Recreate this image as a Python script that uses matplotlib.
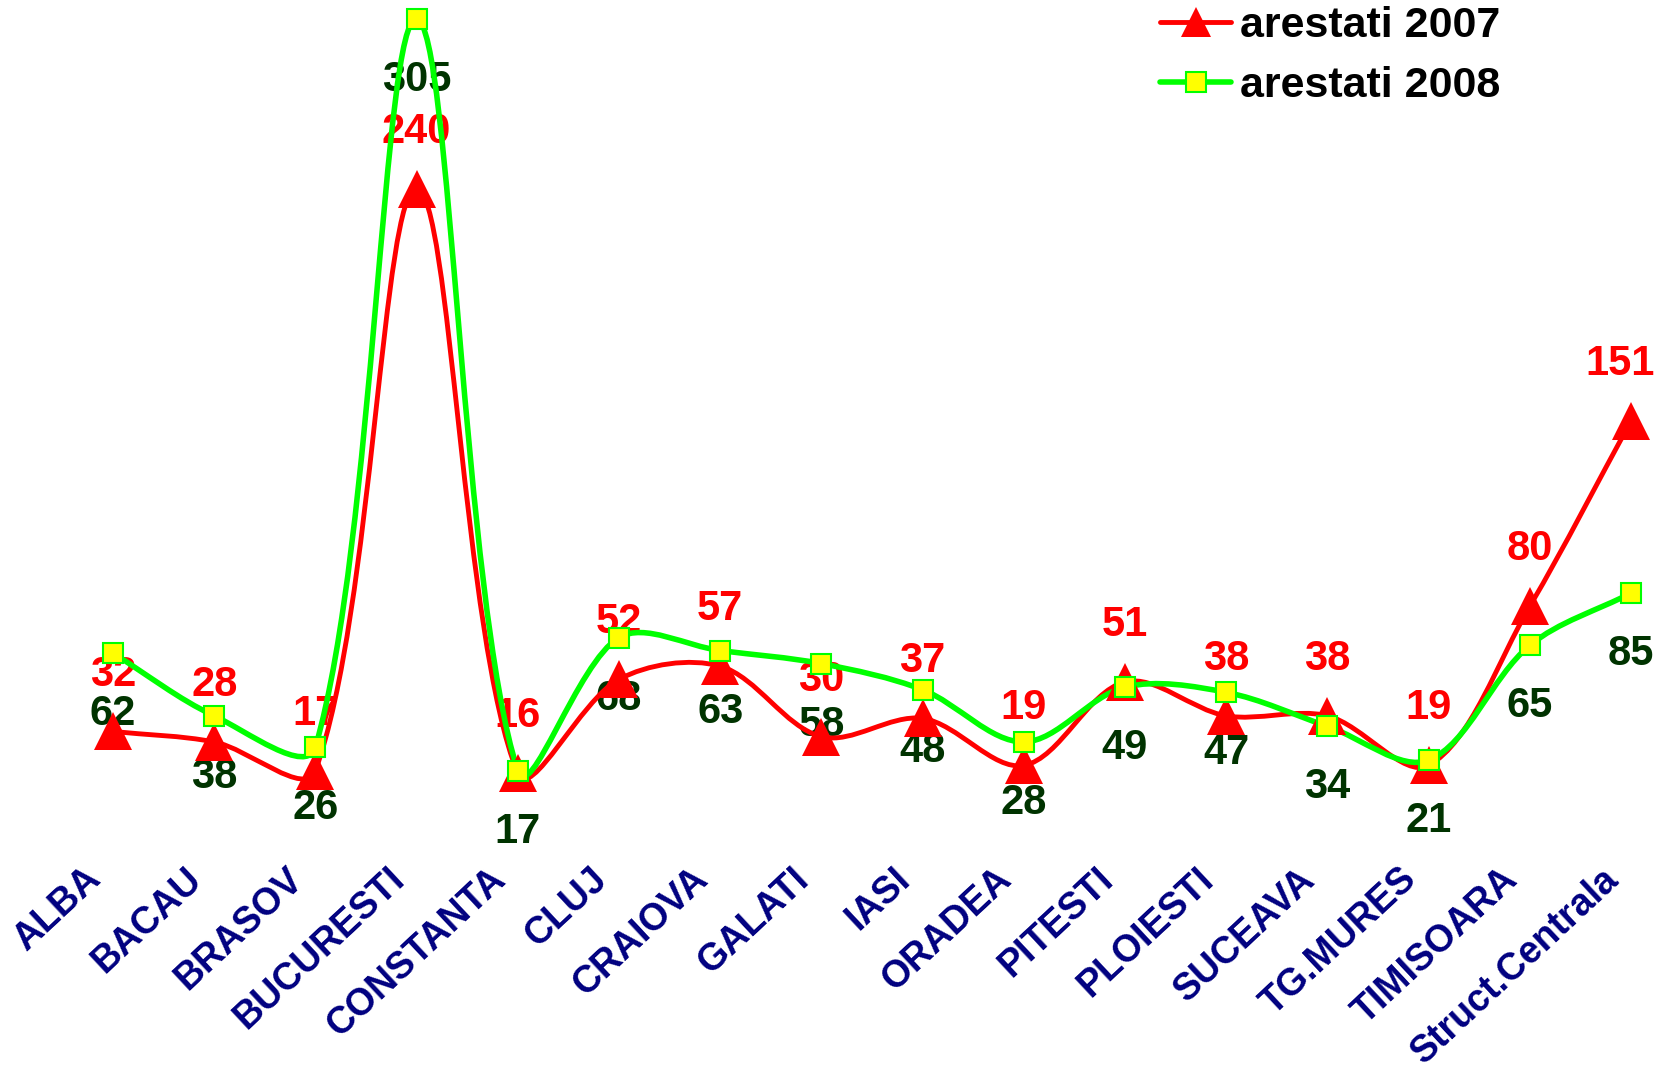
import matplotlib
matplotlib.use('Agg')
import numpy as np
import matplotlib.pyplot as plt
from matplotlib.path import Path
from matplotlib.patches import PathPatch
from matplotlib.lines import Line2D
from matplotlib.transforms import ScaledTranslation

plt.rcParams['font.family'] = ['Liberation Sans', 'DejaVu Sans']
plt.rcParams['font.weight'] = 'bold'

judete = ['ALBA', 'BACAU', 'BRASOV', 'BUCURESTI', 'CONSTANTA', 'CLUJ', 'CRAIOVA',
          'GALATI', 'IASI', 'ORADEA', 'PITESTI', 'PLOIESTI', 'SUCEAVA', 'TG.MURES',
          'TIMISOARA', 'Struct.Centrala']
arestati_2007 = [32, 28, 17, 240, 16, 52, 57, 30, 37, 19, 51, 38, 38, 19, 80, 151]
arestati_2008 = [62, 38, 26, 305, 17, 68, 63, 58, 48, 28, 49, 47, 34, 21, 65, 85]

ROSU = '#ff0000'
VERDE = '#00ff00'
GALBEN = '#ffff00'
VERDE_INCHIS = '#003300'
BLEUMARIN = '#000080'


# curba netezita ca in Excel: Bezier cu tangente scalate dupa lungimea segmentelor
def cale_neteda(ax, xs, ys):
    p = ax.transData.transform(np.column_stack([xs, ys]))
    n = len(p)
    verts = [p[0]]
    codes = [Path.MOVETO]
    for i in range(n - 1):
        p0 = p[max(i - 1, 0)]
        p1 = p[i]
        p2 = p[i + 1]
        p3 = p[min(i + 2, n - 1)]
        d01 = np.hypot(*(p1 - p0))
        d12 = np.hypot(*(p2 - p1))
        d23 = np.hypot(*(p3 - p2))
        b1 = p1 + (p2 - p0) * d12 / (d01 + d12) / 3.0
        b2 = p2 - (p3 - p1) * d12 / (d12 + d23) / 3.0
        verts += [b1, b2, p2]
        codes += [Path.CURVE4] * 3
    verts = ax.transData.inverted().transform(np.array(verts))
    return Path(verts, codes)


fig = plt.figure(figsize=(16.64, 10.8), dpi=100)
ax = fig.add_axes([113 / 1664, 265 / 1080, (1631 - 113) / 1664, (815 - 19) / 1080])
x = list(range(len(judete)))
ax.set_xlim(0, len(x) - 1)
ax.set_ylim(0, 305)

ax.add_patch(PathPatch(cale_neteda(ax, x, arestati_2007), fill=False, edgecolor=ROSU,
                       lw=3.5, capstyle='round', joinstyle='round', zorder=3, clip_on=False))
ax.add_patch(PathPatch(cale_neteda(ax, x, arestati_2008), fill=False, edgecolor=VERDE,
                       lw=4, capstyle='round', joinstyle='round', zorder=3, clip_on=False))
ax.plot(x, arestati_2007, linestyle='none', marker='^', markersize=27,
        color=ROSU, markeredgewidth=0, zorder=4, clip_on=False)
ax.plot(x, arestati_2008, linestyle='none', marker='s', markersize=15,
        markerfacecolor=GALBEN, markeredgecolor=VERDE, markeredgewidth=1.5,
        zorder=5, clip_on=False)

for i in x:
    dx = -8 if i == len(x) - 1 else 0
    ax.annotate(str(arestati_2007[i]), (i, arestati_2007[i]), xytext=(dx, 41),
                textcoords='offset points', ha='center', va='center',
                fontsize=30, fontweight='bold', color=ROSU, zorder=2)
    ax.annotate(str(arestati_2008[i]), (i, arestati_2008[i]), xytext=(0, -44),
                textcoords='offset points', ha='center', va='center',
                fontsize=30, fontweight='bold', color=VERDE_INCHIS, zorder=2)

ax.set_xticks(x)
ax.set_xticklabels(judete, rotation=43, ha='right', va='top', fontsize=27,
                   fontweight='bold', color=BLEUMARIN)
ax.tick_params(axis='x', length=0, pad=33)
ax.set_yticks([])
for s in ax.spines.values():
    s.set_visible(False)
deplasare = ScaledTranslation(-0.05, 0, fig.dpi_scale_trans)
for eticheta in ax.get_xticklabels():
    eticheta.set_transform(eticheta.get_transform() + deplasare)

h1 = Line2D([], [], color=ROSU, lw=3.5, marker='^', markersize=21, markeredgewidth=0,
            solid_capstyle='round')
h2 = Line2D([], [], color=VERDE, lw=4, marker='s', markersize=15,
            markerfacecolor=GALBEN, markeredgecolor=VERDE, markeredgewidth=1.5,
            solid_capstyle='round')
fig.legend([h1, h2], ['arestati 2007', 'arestati 2008'], loc='upper left',
           bbox_to_anchor=(1160 / 1664, 0.994), frameon=False,
           prop={'weight': 'bold', 'size': 31}, handlelength=1.65,
           handletextpad=0.2, labelspacing=0.45, borderpad=0, borderaxespad=0)

plt.savefig('out.png', dpi=100)
